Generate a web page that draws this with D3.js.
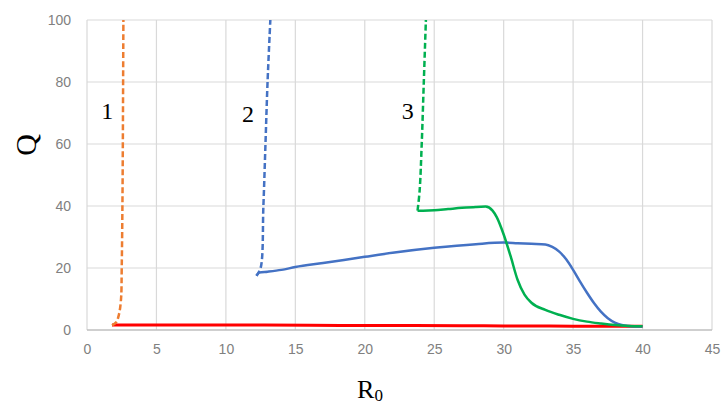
<!DOCTYPE html>
<html><head><meta charset="utf-8">
<script src="https://d3js.org/d3.v7.min.js"></script>
<style>body{margin:0;background:#fff}svg{display:block}</style>
</head><body><svg id="c" width="721" height="409"></svg>
<script>
// Data
const xTicks = [0,5,10,15,20,25,30,35,40,45];
const yTicks = [0,20,40,60,80,100];
const curve1Dashed = [[1.8,1.5],[2.1,2.5],[2.3,5],[2.45,10],[2.5,20],[2.55,40],[2.58,60],[2.6,80],[2.62,100]];
const curve2Dashed = [[12.2,17.5],[12.5,20],[12.7,40],[12.85,60],[13.0,80],[13.2,100]];
const curve2Solid = [[12.2,17.5],[12.4,18.5],[13,18.8],[14,19.4],[15,20.3],[17,21.6],[20,23.6],[22,24.9],[25,26.5],[28,27.7],[30,28.2],[31,28.0],[32,27.8],[33,27.6],[33.5,26.8],[34,25.3],[34.5,22.8],[35,19.4],[35.5,15.6],[36,12],[36.5,8.7],[37,5.9],[37.5,3.8],[38,2.4],[38.5,1.6],[39,1.3],[40,1.1]];
const curve3Dashed = [[23.8,38.5],[23.95,45],[24.1,60],[24.25,80],[24.4,100]];
const curve3Solid = [[23.8,38.5],[24.2,38.5],[25,38.6],[26,39],[27,39.4],[28,39.7],[28.7,39.8],[29.2,38.5],[29.5,36.4],[30,30.8],[30.5,23.8],[31,16.2],[31.5,11.4],[32,8.8],[33,6.5],[34,4.9],[35,3.6],[36,2.7],[37,2.1],[38,1.6],[39,1.3],[40,1.2]];
const redLine = [[1.8,1.6],[5,1.6],[10,1.6],[16,1.55],[20,1.45],[27,1.4],[30,1.3],[35,1.25],[40,1.2]];
const curveLabels = [{t:"1",x:1.45,y:68},{t:"2",x:11.6,y:67},{t:"3",x:23.1,y:68}];

const svg = d3.select("#c");
const L=87, R=712, T=20, B=330;
const x = d3.scaleLinear().domain([0,45]).range([L,R]);
const y = d3.scaleLinear().domain([0,100]).range([B,T]);

// gridlines
svg.append("g").selectAll("line").data(yTicks.filter(d=>d>0)).join("line")
  .attr("x1",L).attr("x2",R).attr("y1",d=>y(d)).attr("y2",d=>y(d))
  .attr("stroke","#d9d9d9").attr("stroke-width",1.2);
svg.append("g").selectAll("line").data(xTicks).join("line")
  .attr("x1",d=>x(d)).attr("x2",d=>x(d)).attr("y1",T).attr("y2",B)
  .attr("stroke","#d9d9d9").attr("stroke-width",1.2);
// bottom axis
svg.append("line").attr("x1",L).attr("x2",R).attr("y1",B).attr("y2",B)
  .attr("stroke","#bfbfbf").attr("stroke-width",1.5);

const xAxis = svg.append("g").attr("transform",`translate(0,${B})`)
  .call(d3.axisBottom(x).tickValues(xTicks).tickSize(0).tickPadding(14));
const yAxis = svg.append("g").attr("transform",`translate(${L},0)`)
  .call(d3.axisLeft(y).tickValues(yTicks).tickSize(0).tickPadding(16));
[xAxis,yAxis].forEach(a=>{
  a.select(".domain").remove();
  a.selectAll("text").attr("font-family","Liberation Sans, Arial, sans-serif")
   .attr("font-size",14).attr("fill","#808080");
});

const lineM = d3.line().x(d=>x(d[0])).y(d=>y(d[1])).curve(d3.curveMonotoneX);
const lineY = d3.line().x(d=>x(d[0])).y(d=>y(d[1])).curve(d3.curveCatmullRom);

svg.append("path").datum(redLine).attr("d",lineM).attr("fill","none")
  .attr("stroke","#ff0000").attr("stroke-width",3);
svg.append("path").datum(curve1Dashed).attr("d",lineY).attr("fill","none")
  .attr("stroke","#ed7d31").attr("stroke-width",2.5).attr("stroke-dasharray","6,3");
svg.append("path").datum(curve2Dashed).attr("d",lineY).attr("fill","none")
  .attr("stroke","#4472c4").attr("stroke-width",2.5).attr("stroke-dasharray","6,3");
svg.append("path").datum(curve2Solid).attr("d",lineM).attr("fill","none")
  .attr("stroke","#4472c4").attr("stroke-width",2.5);
svg.append("path").datum(curve3Dashed).attr("d",lineY).attr("fill","none")
  .attr("stroke","#00b050").attr("stroke-width",2.5).attr("stroke-dasharray","6,3");
svg.append("path").datum(curve3Solid).attr("d",lineM).attr("fill","none")
  .attr("stroke","#00b050").attr("stroke-width",2.5);

svg.append("g").selectAll("text").data(curveLabels).join("text")
  .attr("x",d=>x(d.x)).attr("y",d=>y(d.y)).attr("text-anchor","middle")
  .attr("font-family","Liberation Serif, Times New Roman, serif").attr("font-size",24)
  .attr("fill","#000").text(d=>d.t);

svg.append("text").attr("transform","translate(36,145) rotate(-90)")
  .attr("text-anchor","middle").attr("font-family","Liberation Serif, serif")
  .attr("font-size",30).text("Q");
const rt = svg.append("text").attr("x",370).attr("y",398).attr("text-anchor","middle")
  .attr("font-family","Liberation Serif, serif").attr("font-size",26);
rt.append("tspan").text("R");
rt.append("tspan").attr("font-size",17).attr("dy",3).text("0");
</script></body></html>
